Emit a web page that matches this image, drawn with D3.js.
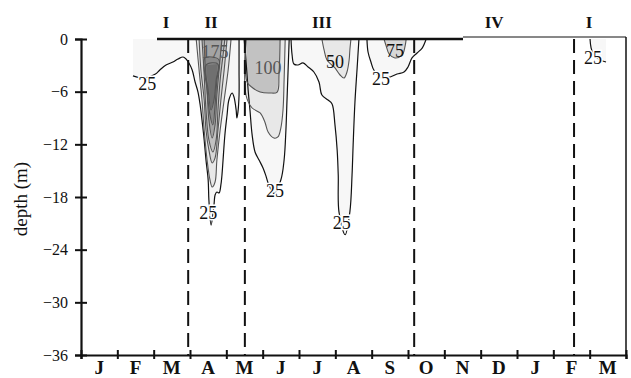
<!DOCTYPE html>
<html>
<head>
<meta charset="utf-8">
<script src="https://cdn.jsdelivr.net/npm/d3@7"></script>
<style>
  body { margin: 0; background: #fff; }
  svg { display: block; }
  text { font-family: "Liberation Serif", "Times New Roman", serif; fill: #111; }
</style>
</head>
<body>
<script>
// month axis: 0 = start of January, 15 = end of March next year
const months = ["J", "F", "M", "A", "M", "J", "J", "A", "S", "O", "N", "D", "J", "F", "M"];
const depthTicks = [0, -6, -12, -18, -24, -30, -36];

// period boundaries (month units) and period names
const periodBreaks = [2.95, 4.51, 9.17, 13.57];
const periodNames = ["I", "II", "III", "IV", "I"];
const periodCentres = [2.34, 3.58, 6.63, 11.37, 13.98];

// isoline levels and their grey
const levels = [25, 50, 75, 100, 125, 150, 175];
const greys = ["#f7f7f7", "#e8e8e8", "#d8d8d8", "#c2c2c2", "#a4a4a4", "#8a8a8a", "#707070"];

// isolines as [month, depth]
const iso25_II = [[1.43, -4.2], [1.75, -4.45], [2.05, -4.0], [2.17, -3.53], [2.34, -2.96], [2.53, -2.62], [2.67, -2.28],
  [2.81, -2.05], [2.89, -2.28], [2.97, -2.73], [3.06, -3.53], [3.14, -4.9], [3.22, -6.04], [3.28, -7.52], [3.33, -9.23],
  [3.39, -11.5], [3.44, -13.78], [3.50, -16.06], [3.52, -18.34], [3.58, -21.2], [3.66, -18.91], [3.69, -17.77],
  [3.74, -17.43], [3.80, -17.54], [3.85, -16.63], [3.88, -15.49], [3.91, -13.78], [3.96, -10.93], [4.02, -8.66],
  [4.07, -6.95], [4.16, -6.15], [4.21, -6.6], [4.27, -8.09], [4.29, -9.0], [4.32, -8.31], [4.35, -6.38], [4.35, -3.53], [4.35, 0]];
const iso50_II = [[3.17, 0], [3.25, -3.53], [3.33, -6.95], [3.39, -10.36], [3.47, -13.78], [3.55, -16.06], [3.61, -16.86],
  [3.69, -16.29], [3.74, -13.78], [3.83, -10.36], [3.94, -6.95], [4.05, -3.53], [4.13, 0]];
const iso75_II = [[3.25, 0], [3.30, -3.53], [3.39, -6.95], [3.44, -10.36], [3.52, -12.64], [3.61, -14.12],
  [3.69, -13.55], [3.77, -10.36], [3.85, -6.95], [3.94, -3.53], [4.02, 0]];
const iso100_II = [[3.33, 0], [3.39, -4.10], [3.44, -8.09], [3.52, -11.5], [3.63, -12.87],
  [3.72, -11.5], [3.77, -8.09], [3.83, -4.67], [3.91, -1.82], [3.96, 0]];
const iso125_II = [[3.39, 0], [3.41, -2.39], [3.47, -5.81], [3.52, -9.23], [3.61, -11.28],
  [3.69, -9.79], [3.74, -6.38], [3.80, -3.53], [3.85, -1.25], [3.88, 0]];
const iso150_II = [[3.41, -2.16], [3.47, -5.81], [3.55, -8.66], [3.63, -9.79], [3.69, -7.52], [3.74, -4.67],
  [3.80, -2.39], [3.61, -2.05]];
const iso175_II = [[3.44, -2.96], [3.50, -5.81], [3.58, -8.09], [3.66, -6.95], [3.72, -4.67], [3.77, -2.85]];

const iso25_III1 = [[4.49, 0], [4.54, -2.39], [4.60, -5.81], [4.65, -8.09], [4.71, -10.93], [4.79, -12.87], [4.90, -13.78],
  [5.01, -14.69], [5.09, -15.6], [5.15, -16.4], [5.31, -17.6], [5.50, -16.06], [5.59, -13.78], [5.64, -10.36],
  [5.67, -6.95], [5.70, -3.53], [5.73, 0]];
const iso50_III1 = [[4.54, 0], [4.54, -6.38], [4.71, -7.86], [4.93, -8.43], [5.06, -9.45], [5.15, -10.59], [5.31, -11.28],
  [5.42, -11.16], [5.50, -10.14], [5.56, -8.09], [5.59, -4.67], [5.62, 0]];
const iso100_III1 = [[4.54, 0], [4.57, -4.9], [4.73, -5.58], [4.93, -6.04], [5.20, -6.15], [5.40, -6.04], [5.45, -4.10], [5.48, 0]];

const iso25_III2 = [[5.78, 0], [5.81, -1.82], [5.86, -2.85], [5.97, -2.96], [6.11, -2.73], [6.25, -3.19], [6.41, -3.76],
  [6.55, -4.90], [6.63, -6.38], [6.80, -6.95], [6.91, -7.40], [6.99, -9.79], [7.05, -12.64], [7.08, -15.49],
  [7.10, -19.70], [7.27, -22.3], [7.40, -19.70], [7.46, -15.49], [7.49, -12.07], [7.54, -7.18], [7.60, -3.30], [7.65, 0]];
const iso50_III2 = [[6.63, 0], [6.69, -1.25], [6.77, -2.39], [6.99, -3.30], [7.13, -4.1], [7.24, -4.44], [7.32, -3.76],
  [7.38, -2.39], [7.40, -1.25], [7.43, 0]];

const iso25_III3 = [[7.87, 0], [7.90, -1.48], [7.98, -2.62], [8.06, -3.53], [8.26, -4.4], [8.51, -4.33], [8.70, -3.99],
  [8.89, -3.76], [9.00, -3.19], [9.11, -2.16], [9.25, -1.59], [9.39, -1.03], [9.50, 0]];
const iso75_III3 = [[8.34, 0], [8.40, -0.80], [8.48, -1.71], [8.64, -2.16], [8.84, -1.82], [8.92, -0.80], [8.95, 0]];

const iso25_I2 = [[14.01, 0], [14.04, -1.03], [14.12, -1.82], [14.29, -2.39], [14.45, -2.62]];

const isolines = [
  {level: 25, pts: iso25_II}, {level: 50, pts: iso50_II}, {level: 75, pts: iso75_II}, {level: 100, pts: iso100_II},
  {level: 125, pts: iso125_II}, {level: 150, pts: iso150_II, closed: true}, {level: 175, pts: iso175_II, closed: true},
  {level: 25, pts: iso25_III1}, {level: 50, pts: iso50_III1}, {level: 100, pts: iso100_III1},
  {level: 25, pts: iso25_III2}, {level: 50, pts: iso50_III2},
  {level: 25, pts: iso25_III3}, {level: 75, pts: iso75_III3},
  {level: 25, pts: iso25_I2}
];

// contour labels [text, month, depth]
const contourLabels = [
  ["25", 1.82, -5.1], ["175", 3.69, -1.4], ["25", 3.50, -19.8], ["100", 5.15, -3.3], ["25", 5.34, -17.3],
  ["50", 6.99, -2.6], ["25", 7.18, -20.9], ["75", 8.64, -1.3], ["25", 8.26, -4.5], ["25", 14.09, -2.1]
];

const W = 631, H = 378;
const svg = d3.select("body").append("svg").attr("width", W).attr("height", H);

const x = d3.scaleLinear().domain([0, 15]).range([81, 626]);
const y = d3.scaleLinear().domain([-36, 0]).range([355, 39]);

const shade = d3.scaleOrdinal().domain(levels).range(greys);

svg.append("clipPath").attr("id", "plot")
  .append("rect").attr("x", x(0)).attr("y", y(0)).attr("width", x(15) - x(0)).attr("height", y(-36) - y(0));

const plot = svg.append("g").attr("clip-path", "url(#plot)");

const line = d3.line().x(d => x(d[0])).y(d => y(d[1])).curve(d3.curveCatmullRom.alpha(0.5));
const loop = d3.line().x(d => x(d[0])).y(d => y(d[1])).curve(d3.curveCatmullRomClosed.alpha(0.5));
const area = d3.line().x(d => x(d[0])).y(d => y(d[1])).curve(d3.curveLinearClosed);

// filled bands, lowest level first
const ordered = isolines.slice().sort((a, b) => a.level - b.level);
plot.selectAll("path.band")
  .data(ordered)
  .join("path")
  .attr("class", "band")
  .attr("d", d => {
    let p = d.pts;
    if (!d.closed) {
      const first = p[0], last = p[p.length - 1];
      p = p.concat([[last[0], 0], [first[0], 0]]);
    }
    return area(p);
  })
  .attr("fill", d => shade(d.level))
  .attr("stroke", "none");

plot.selectAll("path.iso")
  .data(ordered)
  .join("path")
  .attr("class", "iso")
  .attr("d", d => d.closed ? loop(d.pts) : line(d.pts))
  .attr("fill", "none")
  .attr("stroke", d => d.level === 25 ? "#111" : "#555")
  .attr("stroke-width", d => d.level === 25 ? 1.2 : 1.1);

// period boundaries
svg.selectAll("line.period")
  .data(periodBreaks)
  .join("line")
  .attr("class", "period")
  .attr("x1", d => x(d)).attr("x2", d => x(d))
  .attr("y1", y(0)).attr("y2", y(-36))
  .attr("stroke", "#111")
  .attr("stroke-width", 2)
  .attr("stroke-dasharray", "14,7");

// contour labels
svg.selectAll("text.clabel")
  .data(contourLabels)
  .join("text")
  .attr("class", "clabel")
  .attr("x", d => x(d[1]))
  .attr("y", d => y(d[2]))
  .attr("dy", "0.35em")
  .attr("text-anchor", "middle")
  .style("font-size", "18px")
  .style("paint-order", "stroke")
  .style("stroke", d => d[0] === "25" ? "#fff" : "none")
  .style("stroke-width", 3)
  .style("fill", d => (d[0] === "175" || d[0] === "100") ? "#555" : "#111")
  .text(d => d[0]);

// period names
svg.selectAll("text.pname")
  .data(periodNames)
  .join("text")
  .attr("class", "pname")
  .attr("x", (d, i) => x(periodCentres[i]))
  .attr("y", 28)
  .attr("text-anchor", "middle")
  .style("font-size", "17px")
  .style("font-weight", "bold")
  .text(d => d);

// frame: surface line, right edge
svg.append("line").attr("x1", 157).attr("x2", 463).attr("y1", y(0)).attr("y2", y(0))
  .attr("stroke", "#111").attr("stroke-width", 2.5);
svg.append("line").attr("x1", 463).attr("x2", x(15)).attr("y1", y(0) - 2).attr("y2", y(0) - 2)
  .attr("stroke", "#111").attr("stroke-width", 1);
svg.append("line").attr("x1", x(15)).attr("x2", x(15)).attr("y1", y(0) - 2).attr("y2", y(-36))
  .attr("stroke", "#111").attr("stroke-width", 1.5);

// y axis
const yAxis = svg.append("g")
  .attr("transform", `translate(${x(0)},0)`)
  .call(d3.axisLeft(y).tickValues(depthTicks).tickSize(6).tickPadding(7).tickFormat(d3.format("d")));
yAxis.select(".domain").attr("stroke", "#111").attr("stroke-width", 2.2);
yAxis.selectAll(".tick line").attr("x1", 6).attr("x2", -6).attr("stroke", "#111").attr("stroke-width", 2);
yAxis.selectAll(".tick text")
  .style("font-family", "'Liberation Serif', serif").style("font-size", "16px").attr("fill", "#111");

// x axis
const xAxis = svg.append("g")
  .attr("transform", `translate(0,${y(-36)})`)
  .call(d3.axisBottom(x).tickValues(d3.range(0, 16)).tickSize(4).tickFormat(""));
xAxis.select(".domain").attr("stroke", "#111").attr("stroke-width", 2.2);
xAxis.selectAll(".tick line").attr("y1", -5).attr("y2", 4).attr("stroke", "#111").attr("stroke-width", 2);

svg.selectAll("text.month")
  .data(months)
  .join("text")
  .attr("class", "month")
  .attr("x", (d, i) => x(i + 0.5))
  .attr("y", 374)
  .attr("text-anchor", "middle")
  .style("font-size", "19px")
  .style("font-weight", "bold")
  .text(d => d);

svg.append("text")
  .attr("transform", `translate(27,${(y(0) + y(-36)) / 2 + 2}) rotate(-90)`)
  .attr("text-anchor", "middle")
  .style("font-size", "19px")
  .text("depth (m)");
</script>
</body>
</html>
